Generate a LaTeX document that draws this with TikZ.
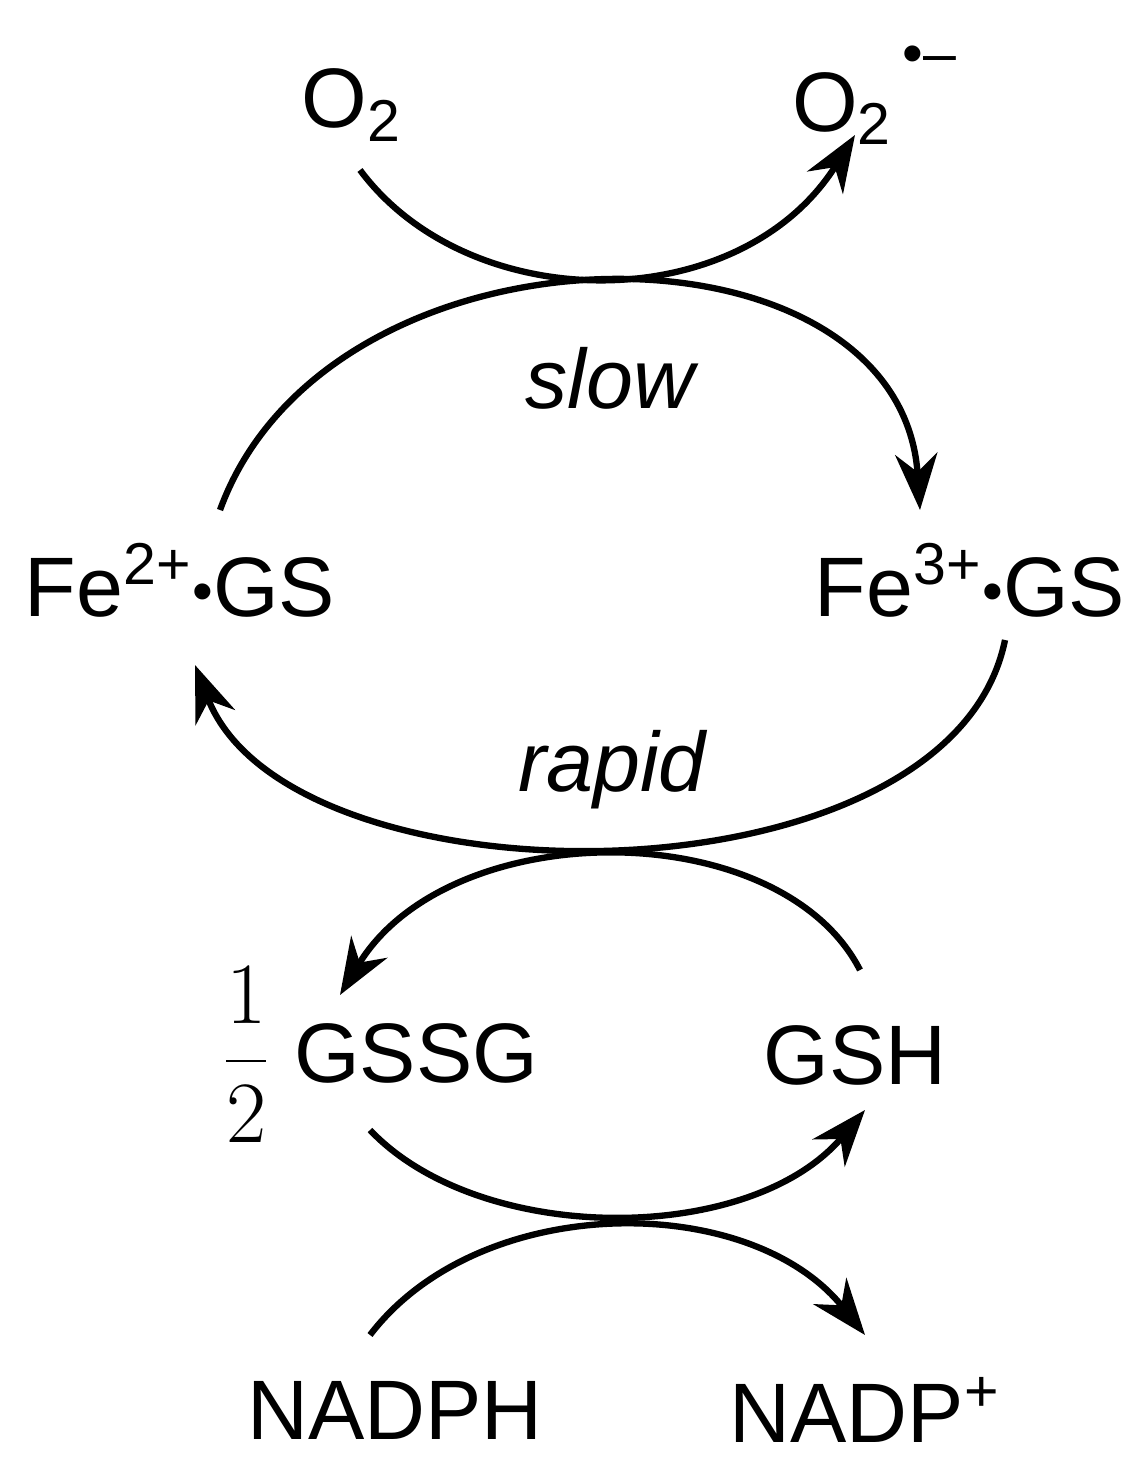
\documentclass[tikz,border=0pt]{standalone}
\usepackage{fontspec}
\setmainfont{Liberation Sans}
\usetikzlibrary{arrows.meta}
\newcommand{\fedot}{\raisebox{0.05em}{\scalebox{0.7}{•}}}

\begin{document}
\begin{tikzpicture}[x=0.01cm,y=-0.01cm,
    chem/.style={font=\fontsize{24}{28}\selectfont, inner sep=0pt},
    rate/.style={font=\fontsize{24}{28}\selectfont\itshape, inner sep=0pt},
    flow/.style={line width=1.8pt, -{Stealth[length=16pt,width=12pt]}}]
    \useasboundingbox (0,0) rectangle (1146,1473);

    % Species
    \node[chem] (o2)    at (352,105)  {O\textsubscript{2}};
    \node[chem] (o2r)   at (875,95)   {O\textsubscript{2}\textsuperscript{\,\raisebox{0.45em}{•–}}};
    \node[chem] (fe2)   at (180,580)  {Fe\textsuperscript{2+}\fedot GS};
    \node[chem] (fe3)   at (970,580)  {Fe\textsuperscript{3+}\fedot GS};
    \node[chem] (gssg)  at (380,1055) {$\displaystyle\frac{1}{2}$ GSSG};
    \node[chem] (gsh)   at (855,1055) {GSH};
    \node[chem] (nadph) at (395,1410) {NADPH};
    \node[chem] (nadp)  at (865,1410) {NADP\textsuperscript{+}};

    % Rates
    \node[rate] (slow)  at (610,378) {slow};
    \node[rate] (rapid) at (612,770) {rapid};

    % Arc ends
    \coordinate (a1) at (360,170);  \coordinate (b1) at (855,135);
    \coordinate (a2) at (220,510);  \coordinate (b2) at (920,510);
    \coordinate (a3) at (1005,640); \coordinate (b3) at (195,665);
    \coordinate (a4) at (860,970);  \coordinate (b4) at (340,995);
    \coordinate (a5) at (370,1130); \coordinate (b5) at (865,1110);
    \coordinate (a6) at (370,1335); \coordinate (b6) at (865,1335);

    % Arcs
    \draw[flow] (a1) .. controls (470,318) and (740,318) .. (b1);
    \draw[flow] (a2) .. controls (330,208) and (900,208) .. (b2);
    \draw[flow] (a3) .. controls (950,911) and (290,911) .. (b3);
    \draw[flow] (a4) .. controls (780,814) and (450,814) .. (b4);
    \draw[flow] (a5) .. controls (480,1246) and (750,1246) .. (b5);
    \draw[flow] (a6) .. controls (480,1191) and (750,1191) .. (b6);
\end{tikzpicture}
\end{document}
